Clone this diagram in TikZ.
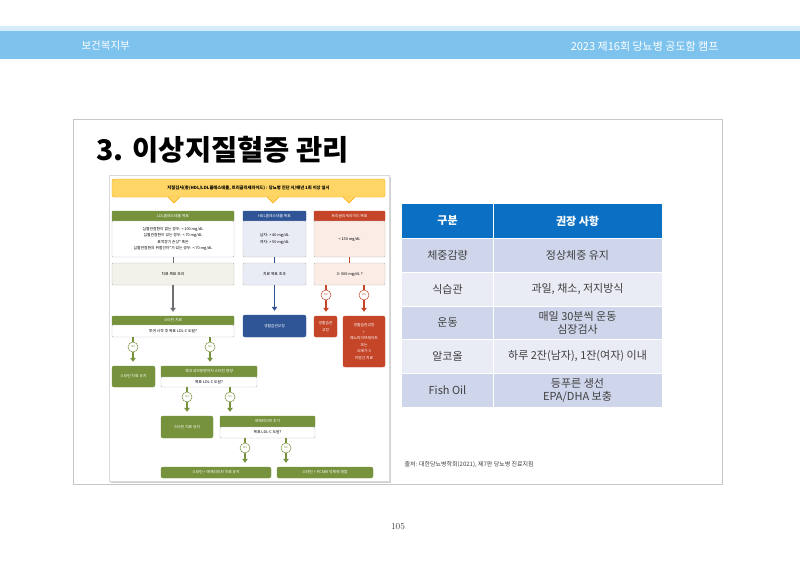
\documentclass[tikz,border=0pt]{standalone}
\usepackage{fontspec}
\newfontfamily\cjk{Noto Sans CJK KR}
\usetikzlibrary{arrows.meta}
\definecolor{bandblue}{RGB}{125,195,238}
\definecolor{bandlight}{RGB}{214,236,250}
\definecolor{fcgreen}{RGB}{118,146,60}
\definecolor{fcblue}{RGB}{47,85,151}
\definecolor{fcred}{RGB}{196,69,40}
\definecolor{fcyellow}{RGB}{255,214,102}
\definecolor{fcgrey}{RGB}{110,110,115}
\definecolor{fcpaleg}{RGB}{242,242,234}
\definecolor{fcpaleb}{RGB}{233,236,245}
\definecolor{fcpaler}{RGB}{251,236,230}
\definecolor{tabhead}{RGB}{11,112,195}
\definecolor{tabdark}{RGB}{207,213,234}
\definecolor{tablight}{RGB}{233,235,245}
\definecolor{tabtext}{RGB}{64,64,64}
\begin{document}
\begin{tikzpicture}[x=1pt,y=-1pt,
  fc/.style={font=\cjk\fontsize{3.8}{6.5}\selectfont,inner sep=0pt,align=center},
  head/.style={fc,fill=#1,text=white,draw=#1,rounded corners=1pt},
  body/.style={fc,fill=#1,draw=gray!55,line width=0.4pt,rounded corners=1pt},
  yn/.style={circle,draw=#1,fill=white,text=#1,line width=0.5pt,minimum size=10pt,
    inner sep=0pt,font=\cjk\fontsize{2.5}{3}\selectfont},
  link/.style={#1,line width=1.5pt},
  arr/.style={#1,line width=1.5pt,-{Triangle[width=5.5pt,length=4pt]},shorten >=4pt},
  cell/.style={font=\cjk\fontsize{11}{13}\selectfont,text=tabtext,align=center}]
\useasboundingbox (0,0) rectangle (800,566);
% header band
\fill[bandlight] (0,26) rectangle (800,31);
\fill[bandblue] (0,31) rectangle (800,59);
\node[font=\cjk\fontsize{10.5}{12}\selectfont,text=white,anchor=west] (org) at (78,46) {보건복지부};
\node[font=\cjk\fontsize{11}{12}\selectfont,text=white,anchor=east] (event) at (722,46) {2023 제16회 당뇨병 공도함 캠프};
% slide
\draw[gray!45,line width=1pt,fill=white] (73,119) rectangle (722,484);
\node[font=\cjk\bfseries\fontsize{28.5}{31}\selectfont,anchor=west] (title) at (93,150) {3. 이상지질혈증 관리};
% flowchart picture
\fill[gray!35] (111,177) rectangle (391,483);
\draw[gray!30,fill=white] (109,175) rectangle (389,481);
\node[fc,font=\cjk\bfseries\fontsize{4.3}{5}\selectfont,fill=fcyellow,draw=orange!70!yellow,rounded corners=2pt,
  minimum width=273pt,minimum height=18pt] (banner) at (248.5,188)
  {지질검사(총/HDL/LDL콜레스테롤, 트리글리세라이드) : 당뇨병 진단 시/매년 1회 이상 실시};
\foreach \px in {174,273,349}
  \filldraw[fill=fcyellow,draw=orange!70!yellow] (\px-6,197) -- (\px,203) -- (\px+6,197);
% goals
\node[head=fcgreen,minimum width=122pt,minimum height=10pt] (ldlhead) at (173,216) {LDL콜레스테롤 목표};
\node[body=white,minimum width=122pt,minimum height=36pt] (ldlgoal) at (173,239)
  {심혈관질환이 없는 경우: < 100 mg/dL\\심혈관질환이 있는 경우: < 70 mg/dL\\표적장기 손상* 혹은\\심혈관질환의 위험인자*가 있는 경우: < 70 mg/dL};
\node[head=fcblue,minimum width=63pt,minimum height=10pt] (hdlhead) at (274.5,216) {HDL콜레스테롤 목표};
\node[body=fcpaleb,minimum width=63pt,minimum height=36pt] (hdlgoal) at (274.5,239) {남자: > 40 mg/dL\\여자: > 50 mg/dL};
\node[head=fcred,minimum width=71pt,minimum height=10pt] (tghead) at (349.5,216) {트리글리세라이드 목표};
\node[body=fcpaler,minimum width=71pt,minimum height=36pt] (tggoal) at (349.5,239) {< 150 mg/dL};
% over target
\node[body=fcpaleg,minimum width=122pt,minimum height=22pt] (ldlover) at (173,274) {치료 목표 초과};
\node[body=fcpaleb,minimum width=63pt,minimum height=22pt] (hdlover) at (274.5,274) {치료 목표 초과};
\node[body=fcpaler,minimum width=71pt,minimum height=22pt] (tgq) at (349.5,274) {≥ 500 mg/dL ?};
\draw[fcgrey,line width=1pt] (ldlgoal) -- (ldlover);
\draw[fcblue,line width=1pt] (hdlgoal) -- (hdlover);
\draw[fcred,line width=1pt] (tggoal) -- (tgq);
% statin
\node[head=fcgreen,minimum width=122pt,minimum height=9pt] (statinhead) at (173,320.5) {스타틴 치료};
\node[body=white,minimum width=122pt,minimum height=12pt] (statinq) at (173,331) {투여 시작 후 목표 LDL-C 도달?};
\draw[arr=fcgrey] (ldlover) -- (statinhead);
\node[head=fcblue,minimum width=63pt,minimum height=22pt,rounded corners=2pt] (hdllife) at (274.5,326) {생활습관교정};
\draw[arr=fcblue] (hdlover) -- (hdllife);
% triglyceride branches
\node[yn=fcred] (tgno) at (326,295) {NO};
\node[yn=fcred] (tgyes) at (364,295) {YES};
\node[head=fcred,minimum width=23pt,minimum height=21pt,rounded corners=2pt] (tgnobox) at (325.5,326.5) {생활습관\\교정};
\node[head=fcred,minimum width=42pt,minimum height=51pt,rounded corners=2pt] (tgyesbox) at (364,341.5)
  {생활습관교정\\+\\페노파이브레이트\\또는\\오메가-3\\지방산 치료};
\draw[link=fcred] (tgq.south -| tgno) -- (tgno);
\draw[arr=fcred] (tgno) -- (tgnobox.north -| tgno);
\draw[link=fcred] (tgq.south -| tgyes) -- (tgyes);
\draw[arr=fcred] (tgyes) -- (tgyesbox);
% statin outcome
\node[yn=fcgreen] (ldlyes) at (133,347) {YES};
\node[yn=fcgreen] (ldlno) at (210,347) {NO};
\node[head=fcgreen,minimum width=43pt,minimum height=21pt,rounded corners=2pt] (keep1) at (133.5,376.5) {스타틴 치료 유지};
\node[head=fcgreen,minimum width=96pt,minimum height=11pt] (maxhead) at (209,371.5) {최대 내약용량까지 스타틴 증량};
\node[body=white,minimum width=96pt,minimum height=10pt] (maxq) at (209,382) {목표 LDL-C 도달?};
\draw[link=fcgreen] (statinq.south -| ldlyes) -- (ldlyes);
\draw[arr=fcgreen] (ldlyes) -- (keep1.north -| ldlyes);
\draw[link=fcgreen] (statinq.south -| ldlno) -- (ldlno);
\draw[arr=fcgreen] (ldlno) -- (maxhead.north -| ldlno);
% max dose outcome
\node[yn=fcgreen] (maxyes) at (187,397) {YES};
\node[yn=fcgreen] (maxno) at (230,397) {NO};
\node[head=fcgreen,minimum width=52pt,minimum height=22pt,rounded corners=2pt] (keep2) at (187,427) {스타틴 치료 유지};
\node[head=fcgreen,minimum width=95pt,minimum height=11pt] (ezhead) at (267.5,421.5) {에제티미브 추가};
\node[body=white,minimum width=95pt,minimum height=11pt] (ezq) at (267.5,432.5) {목표 LDL-C 도달?};
\draw[link=fcgreen] (maxq.south -| maxyes) -- (maxyes);
\draw[arr=fcgreen] (maxyes) -- (keep2.north -| maxyes);
\draw[link=fcgreen] (maxq.south -| maxno) -- (maxno);
\draw[arr=fcgreen] (maxno) -- (ezhead.north -| maxno);
% ezetimibe outcome
\node[yn=fcgreen] (ezyes) at (245,448) {YES};
\node[yn=fcgreen] (ezno) at (286,448) {NO};
\node[head=fcgreen,minimum width=110pt,minimum height=11pt,rounded corners=2pt] (fin1) at (216,472.5) {스타틴 + 에제티미브 치료 유지};
\node[head=fcgreen,minimum width=96pt,minimum height=11pt,rounded corners=2pt] (fin2) at (325,472.5) {스타틴 + PCSK9 억제제 병합};
\draw[link=fcgreen] (ezq.south -| ezyes) -- (ezyes);
\draw[arr=fcgreen] (ezyes) -- (fin1.north -| ezyes);
\draw[link=fcgreen] (ezq.south -| ezno) -- (ezno);
\draw[arr=fcgreen] (ezno) -- (fin2.north -| ezno);
% table
\fill[tabhead] (402,204) rectangle (662,238);
\fill[tabdark] (402,238) rectangle (662,272);
\fill[tablight] (402,272) rectangle (662,306);
\fill[tabdark] (402,306) rectangle (662,339.5);
\fill[tablight] (402,339.5) rectangle (662,373);
\fill[tabdark] (402,373) rectangle (662,407);
\draw[white,line width=0.8pt] (493,204) -- (493,407);
\draw[white,line width=0.6pt] (402,238) -- (662,238) (402,272) -- (662,272) (402,306) -- (662,306)
  (402,339.5) -- (662,339.5) (402,373) -- (662,373);
\node[cell,text=white,font=\cjk\bfseries\fontsize{11}{13}\selectfont] (hsort) at (447.5,221) {구분};
\node[cell,text=white,font=\cjk\bfseries\fontsize{11}{13}\selectfont] (hrec) at (577.5,221) {권장 사항};
\node[cell] (c1) at (447.5,255) {체중감량};
\node[cell] (r1) at (577.5,255) {정상체중 유지};
\node[cell] (c2) at (447.5,289) {식습관};
\node[cell] (r2) at (577.5,289) {과일, 채소, 저지방식};
\node[cell] (c3) at (447.5,322.5) {운동};
\node[cell] (r3) at (577.5,322.5) {매일 30분씩 운동\\심장검사};
\node[cell] (c4) at (447.5,356) {알코올};
\node[cell] (r4) at (577.5,356) {하루 2잔(남자), 1잔(여자) 이내};
\node[cell] (c5) at (447.5,390) {Fish Oil};
\node[cell] (r5) at (577.5,390) {등푸른 생선\\EPA/DHA 보충};
\node[font=\cjk\fontsize{6}{7}\selectfont,text=tabtext,anchor=west] (source) at (401,465)
  {출처: 대한당뇨병학회(2021), 제7판 당뇨병 진료지침};
\node[font=\fontsize{9}{10}\selectfont,text=tabtext] (page) at (398,527) {105};
\end{tikzpicture}
\end{document}
